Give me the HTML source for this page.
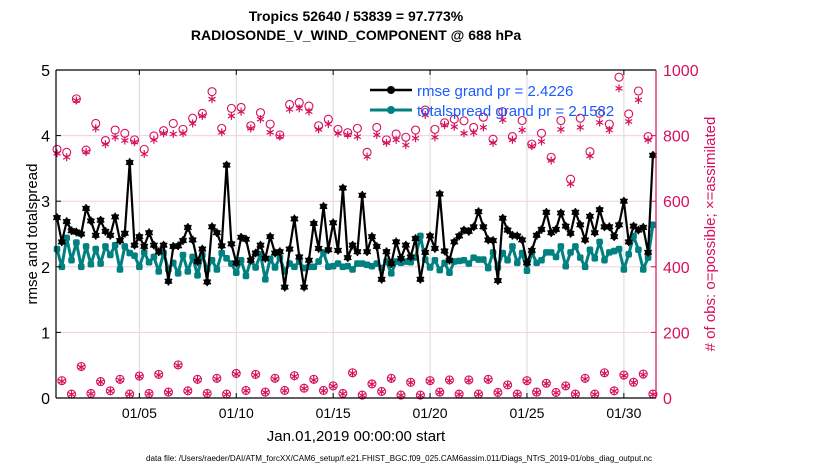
<!DOCTYPE html>
<html><head><meta charset="utf-8">
<style>
html,body{margin:0;padding:0;background:#fff;}
svg{display:block;font-family:"Liberation Sans",Arial,sans-serif;}
</style></head>
<body>
<svg id="chart" width="830" height="470" viewBox="0 0 830 470" xmlns="http://www.w3.org/2000/svg">
<rect width="830" height="470" fill="#fff"/>
<text x="356" y="21" text-anchor="middle" font-size="14" font-weight="bold">Tropics 52640 / 53839 = 97.773%</text>
<text x="356" y="40" text-anchor="middle" font-size="14" font-weight="bold">RADIOSONDE_V_WIND_COMPONENT @ 688 hPa</text>
<g id="grid"></g>
<g id="obs"></g>
<g id="lines"></g>
<g id="axes"></g>
<text transform="translate(37,234) rotate(-90)" text-anchor="middle" font-size="15">rmse and totalspread</text>
<text transform="translate(715,234) rotate(-90)" text-anchor="middle" font-size="15" fill="#d6105c"># of obs: o=possible; ×=assimilated</text>
<text x="356" y="441" text-anchor="middle" font-size="15">Jan.01,2019 00:00:00 start</text>
<text x="399" y="461" text-anchor="middle" font-size="8" textLength="506" lengthAdjust="spacingAndGlyphs">data file: /Users/raeder/DAI/ATM_forcXX/CAM6_setup/f.e21.FHIST_BGC.f09_025.CAM6assim.011/Diags_NTrS_2019-01/obs_diag_output.nc</text>
<g>
  <g>
    <line x1="370" y1="90" x2="412" y2="90" stroke="#000" stroke-width="2.5"/>
    <circle cx="391" cy="90" r="4" fill="#000"/>
    <text x="417" y="96" font-size="15" fill="#1a5cff">rmse grand pr = 2.4226</text>
  </g>
  <g>
    <line x1="370" y1="110" x2="412" y2="110" stroke="#008080" stroke-width="3"/>
    <circle cx="391" cy="110" r="4" fill="#008080"/>
    <text x="417" y="116" font-size="15" fill="#1a5cff">totalspread grand pr = 2.1582</text>
  </g>
</g>
</svg>
<script>
const rmse = [2.75,2.38,2.69,2.55,2.53,2.50,2.89,2.70,2.48,2.71,2.54,2.48,2.76,2.40,2.51,3.59,2.33,2.46,2.31,2.52,2.33,2.23,2.33,1.78,2.31,2.32,2.40,2.60,2.41,2.08,2.27,1.77,
2.61,2.52,2.32,3.55,2.35,2.06,2.45,2.42,2.10,2.21,2.33,2.13,2.46,2.21,2.23,1.69,2.27,2.73,2.15,1.69,2.10,2.66,2.28,2.92,2.26,2.67,2.25,3.20,2.14,2.33,
2.23,3.09,2.23,2.46,2.31,1.81,2.23,2.05,2.38,2.13,2.33,2.15,2.43,1.81,2.22,2.47,2.28,3.11,2.24,2.10,2.38,2.47,2.56,2.54,2.61,2.84,2.61,2.41,2.40,1.79,2.74,2.56,
2.48,2.47,2.41,2.06,2.25,2.48,2.57,2.83,2.52,2.57,2.82,2.62,2.51,2.83,2.64,2.41,2.77,2.52,2.87,2.61,2.61,2.46,2.64,3.0,2.38,2.62,2.56,2.60,2.22,3.70];
const totalspread = [2.27,2.0,2.44,2.10,2.37,2.0,2.31,2.04,2.27,2.05,2.31,2.18,2.33,1.96,2.31,2.21,2.17,2.0,2.22,2.07,2.15,1.93,2.21,1.96,2.06,1.90,2.18,1.93,2.15,1.87,2.18,1.96,
2.10,1.96,2.21,2.13,2.05,1.91,2.10,1.86,2.10,1.99,2.19,1.81,2.12,1.99,2.14,1.93,2.05,2.0,2.08,1.98,2.0,2.0,2.08,2.22,2.0,2.01,2.05,2.0,2.01,1.96,
2.05,2.05,2.03,2.01,2.05,1.98,2.08,1.90,2.08,2.06,2.08,2.07,2.14,2.47,2.11,1.99,2.10,1.95,2.06,1.91,2.08,2.09,2.10,2.05,2.14,2.11,2.11,1.98,2.22,1.99,2.21,2.10,
2.31,2.06,2.21,1.94,2.22,2.06,2.10,2.22,2.22,2.15,2.31,2.01,2.22,2.31,2.14,2.0,2.26,2.13,2.38,2.10,2.22,2.24,2.27,1.96,2.19,2.47,2.26,1.96,2.14,2.64];
// obs counts: synoptic times (00Z/12Z) and off-synoptic (06Z/18Z), alternating
const possibleSynoptic = [758,749,912,756,837,785,817,807,787,758,799,815,837,819,853,868,
934,822,883,886,830,870,835,802,895,901,890,830,850,819,809,822,
749,825,787,805,795,817,878,819,839,850,845,825,856,789,873,
797,846,774,807,734,846,667,853,751,868,835,978,866,936,797];
const assimSynoptic = [746,734,907,750,822,774,795,785,780,744,787,807,805,807,837,860,
911,810,860,873,822,850,810,797,880,883,873,819,835,807,802,797,
736,802,778,787,771,792,863,795,832,827,807,809,825,778,848,
787,817,768,782,724,819,653,825,738,840,817,944,843,909,787];
const possibleOffSynoptic = [53,12,96,14,50,22,57,12,67,14,72,18,101,22,57,14,
60,12,75,23,72,18,60,23,68,30,57,23,37,14,77,
9,43,20,60,9,48,9,53,18,55,12,55,12,57,17,40,
12,53,18,45,17,37,12,60,12,77,22,70,48,73,12];
const assimOffSynoptic = [51,11,94,13,49,21,55,11,65,13,70,17,99,21,55,13,
58,11,73,22,70,17,58,22,66,29,55,22,36,13,75,
8,42,19,58,8,47,8,51,17,53,11,53,11,55,16,39,
11,51,17,44,16,36,11,58,11,75,21,68,47,71,11];
const xTickLabels = ["01/05","01/10","01/15","01/20","01/25","01/30"];
const xTickDays = [4.25,9.25,14.25,19.25,24.25,29.25];
const yLeftTicks = [0,1,2,3,4,5];
const yRightTicks = [0,200,400,600,800,1000];
const stepDays = 0.25;

const NS="http://www.w3.org/2000/svg";
const L=56,R=656,T=70,B=398;
const xs = t => 57 + t*19.38;
const yl = v => B - (v/5)*(B-T);
const yr = v => B - (v/1000)*(B-T);
function mk(tag, attrs, parent){const e=document.createElementNS(NS,tag);for(const k in attrs)e.setAttribute(k,attrs[k]);parent.appendChild(e);return e;}
const grid=document.getElementById('grid'), axes=document.getElementById('axes'), obs=document.getElementById('obs'), lines=document.getElementById('lines');
const CR="#d6105c";

xTickDays.forEach((d,i)=>{
  const x=xs(d);
  const g=mk('line',{x1:x,x2:x,y1:T,y2:B,stroke:"#d8d8d8","stroke-width":1},grid);
  
  
  mk('line',{x1:x,x2:x,y1:B,y2:B-5,stroke:"#000"},axes);
  mk('line',{x1:x,x2:x,y1:T,y2:T+5,stroke:"#000"},axes);
  const t=mk('text',{x:x,y:418,"text-anchor":"middle","font-size":"14"},axes);
  t.textContent=xTickLabels[i];
  
  
});
yRightTicks.forEach(v=>{
  const y=yr(v);
  if(v>0&&v<1000){
    const g=mk('line',{x1:L,x2:R,y1:y,y2:y,stroke:"#f0d0dc","stroke-width":1},grid);
    
    
  }
  mk('line',{x1:R,x2:R-5,y1:y,y2:y,stroke:CR},axes);
  const t=mk('text',{x:663,y:y+6,"font-size":"16",fill:CR},axes);
  t.textContent=v;
  
  
});
yLeftTicks.forEach(v=>{
  const y=yl(v);
  mk('line',{x1:L,x2:L+5,y1:y,y2:y,stroke:"#000"},axes);
  const t=mk('text',{x:50,y:y+6,"text-anchor":"end","font-size":"16"},axes);
  t.textContent=v;
  
  
});
mk('line',{x1:L,x2:R,y1:T,y2:T,stroke:"#000","stroke-width":1.2},axes);
mk('line',{x1:L,x2:R,y1:B,y2:B,stroke:"#000","stroke-width":1.2},axes);
mk('line',{x1:L,x2:L,y1:T,y2:B,stroke:"#000","stroke-width":1.2},axes);
mk('line',{x1:R,x2:R,y1:T,y2:B,stroke:CR,"stroke-width":1.2},axes);

function star(cx,cy,r,color,parent,w){
  const g=mk('g',{stroke:color,"stroke-width":w},parent);
  for(let a=0;a<3;a++){const an=a*Math.PI/3+Math.PI/2;
    mk('line',{x1:cx-r*Math.cos(an),y1:cy-r*Math.sin(an),x2:cx+r*Math.cos(an),y2:cy+r*Math.sin(an)},g);}
  return g;
}
function drawObs(i,p,a){
  const x=xs(i*stepDays);
  const c=mk('circle',{cx:x,cy:yr(p),r:4,fill:"none",stroke:CR,"stroke-width":1.1},obs);
  
  
  const s=star(x,yr(a),4,CR,obs,1.2);
  
  
}
possibleSynoptic.forEach((p,k)=>drawObs(2*k,p,assimSynoptic[k]));
possibleOffSynoptic.forEach((p,k)=>drawObs(2*k+1,p,assimOffSynoptic[k]));

function series(vals,color,w,name,markerFn){
  const pts=vals.map((v,i)=>xs(i*stepDays).toFixed(1)+","+yl(v).toFixed(1)).join(" ");
  const pl=mk('polyline',{points:pts,fill:"none",stroke:color,"stroke-width":w,"stroke-linejoin":"round"},lines);
  
  
  vals.forEach((v,i)=>{const m=markerFn(xs(i*stepDays),yl(v));
    
    });
}
series(totalspread,"#008080",3,"totalspread",(x,y)=>mk('rect',{x:x-3.3,y:y-3.3,width:6.6,height:6.6,rx:2,fill:"#008080"},lines));
series(rmse,"#000",2.2,"rmse",(x,y)=>{const g=mk('g',{},lines);mk('circle',{cx:x,cy:y,r:3.3,fill:"#000"},g);star(x,y,4.3,"#000",g,1.5);return g;});
</script>
</body></html>
